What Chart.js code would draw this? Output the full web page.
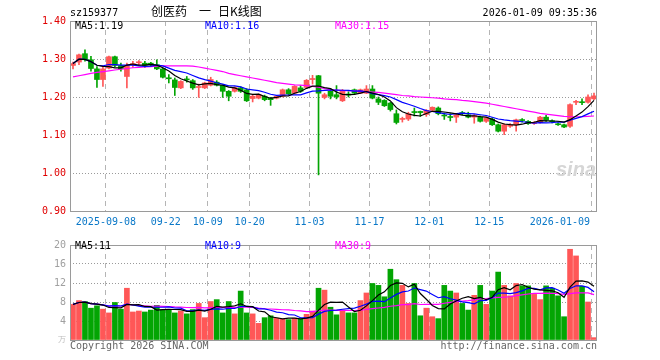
<!DOCTYPE html>
<html>
<head>
<meta charset="utf-8">
<script src="https://cdn.jsdelivr.net/npm/chart.js@4"></script>
<style>
body{margin:0;background:#fff;width:660px;height:360px;overflow:hidden;position:relative;font-family:"DejaVu Sans Mono",monospace;font-size:10px}
.t{position:absolute;white-space:pre;line-height:12px}
.cjk{font-family:"Noto Sans CJK SC";font-size:12px;line-height:12px;position:absolute;color:#000}
canvas{position:absolute;left:0}
</style>
</head>
<body>
<canvas id="kline" width="660" height="235" style="top:0"></canvas>
<canvas id="vol" width="660" height="125" style="top:235px"></canvas>

<div class="t" style="left:70px;top:7px;color:#000">sz159377</div>
<div class="cjk" style="left:151px;top:5px">创医药</div>
<div class="cjk" style="left:199px;top:5px">一</div>
<div class="cjk" style="left:218px;top:5px">日K线图</div>
<div class="t" style="right:63px;top:7px;color:#000">2026-01-09 09:35:36</div>

<div class="t" style="left:75px;top:20px;color:#000">MA5:1.19</div>
<div class="t" style="left:205px;top:20px;color:#0000ff">MA10:1.16</div>
<div class="t" style="left:335px;top:20px;color:#ff00ff">MA30:1.15</div>

<div class="t" style="left:75px;top:240px;color:#000">MA5:11</div>
<div class="t" style="left:205px;top:240px;color:#0000ff">MA10:9</div>
<div class="t" style="left:335px;top:240px;color:#ff00ff">MA30:9</div>

<div class="t" style="left:556px;top:158px;font:italic bold 20px 'Liberation Sans';color:#d6d6d6">sina</div>
<div class="t" style="left:58px;top:334px;font-size:8px;color:#bbb">万</div>

<div class="t" style="left:70px;top:340px;color:#666">Copyright 2026 SINA.COM</div>
<div class="t" style="right:63px;top:340px;color:#666">http://finance.sina.com.cn</div>

<script>
// date ticks (candle index where the grid line sits)
const dates = ['2025-09-08','09-22','10-09','10-20','11-03','11-17','12-01','12-15','2026-01-09'];
const dateIdx = [6,16,23,30,40,50,60,70,87];

const open = [1.283,1.292,1.314,1.298,1.274,1.246,1.276,1.306,1.283,1.254,
  1.285,1.290,1.289,1.289,1.285,1.274,1.250,1.245,1.224,1.247,
  1.243,1.225,1.224,1.231,1.239,1.231,1.215,1.215,1.224,1.219,
  1.196,1.197,1.202,1.197,1.197,1.202,1.219,1.210,1.224,1.225,
  1.246,1.256,1.199,1.215,1.206,1.190,1.208,1.219,1.210,1.210,
  1.221,1.195,1.191,1.184,1.156,1.141,1.142,1.161,1.162,1.154,
  1.165,1.171,1.152,1.148,1.147,1.159,1.153,1.147,1.147,1.136,
  1.142,1.127,1.110,1.123,1.127,1.139,1.136,1.130,1.133,1.147,
  1.137,1.128,1.127,1.123,1.186,1.187,1.186,1.195];
const high = [1.292,1.313,1.324,1.307,1.280,1.280,1.308,1.308,1.289,1.289,
  1.294,1.296,1.294,1.291,1.298,1.276,1.259,1.250,1.243,1.254,
  1.246,1.234,1.239,1.252,1.243,1.232,1.217,1.227,1.227,1.222,
  1.206,1.208,1.205,1.199,1.204,1.221,1.222,1.230,1.230,1.246,
  1.257,1.257,1.210,1.222,1.230,1.220,1.214,1.221,1.221,1.230,
  1.230,1.200,1.193,1.186,1.166,1.147,1.160,1.171,1.163,1.167,
  1.174,1.174,1.158,1.156,1.156,1.162,1.160,1.154,1.150,1.147,
  1.145,1.129,1.130,1.130,1.142,1.143,1.138,1.135,1.149,1.152,
  1.140,1.132,1.129,1.182,1.191,1.195,1.206,1.210];
const low = [1.274,1.285,1.294,1.268,1.225,1.228,1.274,1.280,1.268,1.224,
  1.278,1.285,1.278,1.282,1.272,1.250,1.237,1.204,1.222,1.239,
  1.220,1.199,1.222,1.229,1.229,1.199,1.190,1.213,1.212,1.188,
  1.187,1.195,1.190,1.178,1.195,1.200,1.206,1.208,1.212,1.222,
  1.234,0.995,1.195,1.195,1.195,1.188,1.200,1.208,1.209,1.209,
  1.195,1.180,1.175,1.163,1.129,1.134,1.138,1.150,1.149,1.149,
  1.163,1.153,1.141,1.137,1.133,1.153,1.145,1.131,1.134,1.133,
  1.125,1.108,1.101,1.120,1.110,1.134,1.128,1.128,1.131,1.136,
  1.132,1.125,1.119,1.120,1.180,1.180,1.184,1.193];
const close = [1.288,1.311,1.298,1.275,1.246,1.274,1.306,1.283,1.274,1.283,
  1.288,1.291,1.283,1.284,1.274,1.252,1.248,1.225,1.241,1.245,
  1.224,1.226,1.237,1.246,1.231,1.215,1.202,1.225,1.215,1.190,
  1.202,1.206,1.193,1.193,1.202,1.219,1.208,1.228,1.215,1.244,
  1.248,1.210,1.206,1.202,1.200,1.217,1.205,1.210,1.219,1.221,
  1.197,1.186,1.177,1.167,1.133,1.143,1.156,1.159,1.159,1.165,
  1.173,1.156,1.150,1.146,1.153,1.156,1.147,1.151,1.136,1.145,
  1.127,1.110,1.127,1.127,1.140,1.138,1.130,1.133,1.147,1.139,
  1.135,1.127,1.121,1.180,1.188,1.185,1.200,1.203];
const volume = [7.5,8.3,8.1,6.7,7.2,6.5,5.7,7.9,6.5,10.9,
  5.9,6.1,5.9,6.3,7.3,6.4,6.4,5.7,6.1,5.5,
  6.4,7.7,4.7,8.1,8.5,5.7,8.1,5.5,10.3,5.7,
  5.5,3.5,4.7,5.1,4.6,4.4,4.3,4.6,4.4,5.4,
  6.1,10.9,10.5,6.9,5.3,6.3,5.7,5.7,8.3,9.9,
  11.9,11.5,9.1,14.9,12.7,11.5,7.7,11.9,5.1,6.7,
  4.9,4.5,11.5,10.3,9.9,7.7,6.3,9.4,11.5,7.5,
  10.3,14.3,11.5,9.3,11.9,11.4,11.4,9.6,8.5,11.4,
  10.9,9.3,4.9,19.1,17.7,11.3,8.0,0.5];
// MA30 of price (history before the first candle is not shown)
const ma30 = [1.253,1.256,1.259,1.262,1.265,1.267,1.269,1.271,1.273,1.275,
  1.277,1.278,1.279,1.280,1.281,1.282,1.282,1.282,1.282,1.282,
  1.281,1.279,1.276,1.273,1.270,1.267,1.262,1.259,1.256,1.253,
  1.250,1.247,1.244,1.241,1.238,1.236,1.234,1.232,1.231,1.230,
  1.228,1.226,1.222,1.219,1.218,1.217,1.217,1.216,1.215,1.214,
  1.213,1.212,1.210,1.208,1.206,1.204,1.203,1.201,1.200,1.199,
  1.198,1.197,1.195,1.194,1.193,1.191,1.190,1.188,1.186,1.184,
  1.181,1.178,1.175,1.172,1.169,1.166,1.163,1.160,1.157,1.155,
  1.153,1.151,1.149,1.148,1.148,1.148,1.149,1.150];

const RED = '#ff5757', GREEN = '#03a503';

function movingAvg(arr, n) {
  return arr.map((_, i) => {
    const part = arr.slice(Math.max(0, i - n + 1), i + 1);
    return part.reduce((s, v) => s + v, 0) / part.length;
  });
}

const colors = close.map((c, i) => c >= open[i] ? RED : GREEN);
const xy = (arr) => arr.map((v, i) => ({ x: i + 0.5, y: v }));

function lineSet(data, color) {
  return { type: 'line', data: xy(data), borderColor: color, borderWidth: 1.2,
    pointRadius: 0, tension: 0, order: 0 };
}

const framePlugin = {
  id: 'frame',
  afterDraw(chart) {
    const { ctx, chartArea: a } = chart;
    ctx.save();
    ctx.strokeStyle = '#9a9a9a';
    ctx.lineWidth = 1;
    ctx.strokeRect(a.left + 0.5, a.top + 0.5, a.right - a.left - 1, a.bottom - a.top);
    ctx.restore();
  }
};

const dateLabels = {
  id: 'dateLabels',
  afterDraw(chart) {
    const xs = chart.scales.x, ctx = chart.ctx;
    ctx.save();
    ctx.font = '10px "DejaVu Sans Mono"';
    ctx.fillStyle = '#0a78c8';
    dateIdx.forEach((v, k) => {
      const px = xs.getPixelForValue(v);
      const last = k === dateIdx.length - 1;
      ctx.textAlign = last ? 'right' : 'center';
      ctx.fillText(dates[k], last ? px - 1 : px, chart.chartArea.bottom + 14);
    });
    ctx.restore();
  }
};

function xScale(h) {
  return {
    type: 'linear', min: 0, max: close.length, offset: false,
    afterBuildTicks: s => { s.ticks = dateIdx.map(v => ({ value: v })); },
    afterFit: s => { s.height = h; },
    ticks: { display: false },
    grid: { offset: false, drawTicks: false, color: '#b5b5b5', lineWidth: 1 },
    border: { display: false, dash: [5, 4] }
  };
}

const common = {
  responsive: false, animation: false, devicePixelRatio: 1, events: [],
  plugins: { legend: { display: false }, tooltip: { enabled: false } }
};

new Chart(document.getElementById('kline'), {
  type: 'bar',
  data: {
    datasets: [
      { data: close.map((c, i) => ({ x: i + 0.5, y: [low[i], high[i]] })),
        backgroundColor: colors, barThickness: 1, maxBarThickness: 1, grouped: false, order: 2 },
      { data: close.map((c, i) => ({ x: i + 0.5, y: [open[i], c] })),
        backgroundColor: colors, barThickness: 5, maxBarThickness: 5, minBarLength: 1, grouped: false, order: 1 },
      lineSet(movingAvg(close, 5), '#000000'),
      lineSet(movingAvg(close, 10), '#0000ff'),
      lineSet(ma30, '#ff00ff')
    ]
  },
  options: Object.assign({}, common, {
    layout: { padding: { top: 21, right: 63, left: 0, bottom: 0 } },
    scales: {
      x: xScale(24),
      y: {
        min: 0.9, max: 1.4, stacked: false, beginAtZero: false,
        afterFit: s => { s.width = 70; },
        ticks: { stepSize: 0.1, padding: 4, color: '#e00000',
          font: { family: 'DejaVu Sans Mono', size: 10 },
          callback: v => v.toFixed(2) },
        grid: { drawTicks: false, lineWidth: 1,
          color: c => (c.index === 0 || c.index === 5) ? 'rgba(0,0,0,0)' : '#9a9a9a' },
        border: { display: false, dash: [1, 2] }
      }
    }
  }),
  plugins: [framePlugin, dateLabels]
});

new Chart(document.getElementById('vol'), {
  type: 'bar',
  data: {
    datasets: [
      { data: xy(volume), backgroundColor: colors, barThickness: 5, maxBarThickness: 5,
        grouped: false, order: 1 },
      lineSet(movingAvg(volume, 5), '#000000'),
      lineSet(movingAvg(volume, 10), '#0000ff'),
      lineSet(movingAvg(volume, 30), '#ff00ff')
    ]
  },
  options: Object.assign({}, common, {
    layout: { padding: { top: 5, right: 63, left: 0, bottom: 0 } },
    scales: {
      x: xScale(20),
      y: {
        min: 0, max: 20, stacked: false,
        afterFit: s => { s.width = 70; },
        ticks: { stepSize: 4, padding: 4, color: '#a0a0a0',
          font: { family: 'DejaVu Sans Mono', size: 10 },
          callback: v => v === 0 ? '' : v },
        grid: { drawTicks: false, lineWidth: 1,
          color: c => (c.index === 0 || c.index === 5) ? 'rgba(0,0,0,0)' : '#9a9a9a' },
        border: { display: false, dash: [1, 2] }
      }
    }
  }),
  plugins: [framePlugin]
});
</script>
</body>
</html>
